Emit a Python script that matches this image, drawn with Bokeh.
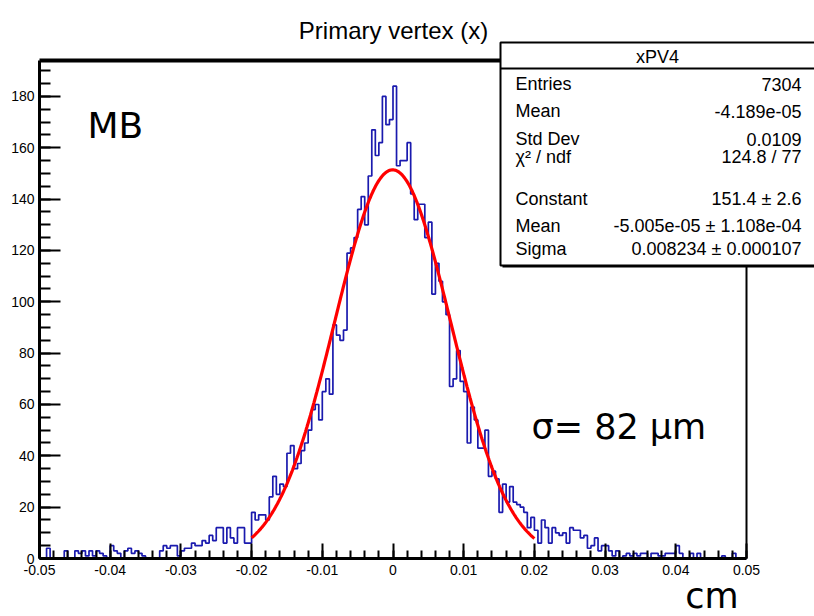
import numpy as np
from bokeh.plotting import figure
from bokeh.models import Range1d, FixedTicker, CustomJSTickFormatter, Label, LinearAxis
from bokeh.embed import file_html
from bokeh.resources import INLINE

# ---------------- data ----------------
TITLE = "Primary vertex (x)"
X_MIN, X_MAX, N_BINS = -0.05, 0.05, 200
Y_MAX = 194
X_TICKS = [-0.05, -0.04, -0.03, -0.02, -0.01, 0.0, 0.01, 0.02, 0.03, 0.04, 0.05]
Y_TICKS = [0, 20, 40, 60, 80, 100, 120, 140, 160, 180]

COUNTS = [
    0, 0, 4, 0, 0, 0, 0, 3, 0, 0,          # 0-9
    3, 2, 3, 1, 3, 1, 3, 2, 1, 0,          # 10-19
    5, 3, 2, 0, 3, 4, 2, 3, 2, 1,          # 20-29
    0, 0, 0, 0, 3, 5, 4, 5, 5, 1,          # 30-39
    3, 4, 4, 6, 5, 5, 7, 6, 9, 7,          # 40-49
    12, 12, 6, 12, 8, 6, 12, 12, 6, 6,     # 50-59
    18, 15, 17, 17, 15, 24, 32, 25, 29, 28,  # 60-69
    41, 44, 35, 37, 42, 45, 50, 58, 60, 54,  # 70-79
    65, 70, 64, 91, 87, 85, 89, 119, 121, 125,  # 80-89
    136, 141, 130, 149, 167, 157, 162, 180, 169, 171,  # 90-99
    184, 153, 155, 155, 162, 142, 132, 138, 138, 125,  # 100-109
    131, 103, 115, 108, 100, 95, 67, 70, 81, 69,  # 110-119
    65, 45, 59, 54, 43, 43, 50, 32, 34, 31,  # 120-129
    18, 29, 22, 28, 22, 21, 20, 18, 12, 16,  # 130-139
    11, 6, 15, 12, 6, 12, 10, 9, 10, 6,    # 140-149
    12, 11, 11, 8, 9, 4, 5, 8, 3, 5,       # 150-159
    5, 3, 1, 3, 0, 1, 2, 1, 2, 1,          # 160-169
    2, 2, 0, 2, 2, 1, 1, 2, 2, 2,          # 170-179
    5, 2, 0, 0, 2, 0, 2, 0, 0, 0,          # 180-189
    0, 0, 0, 1, 0, 0, 2, 0, 0, 0,          # 190-199
]

FIT_CONST, FIT_MEAN, FIT_SIGMA = 151.4, -5.005e-05, 0.008234
FIT_LO, FIT_HI = -0.02, 0.02

STATS_NAME = "xPV4"
STATS_KEYS = ["Entries", "Mean", "Std Dev", "χ² / ndf", "Constant", "Mean", "Sigma"]
STATS_VALS = ["7304", "-4.189e-05", "0.0109", "124.8 / 77", "151.4 ± 2.6",
              "-5.005e-05 ± 1.108e-04", "0.008234 ± 0.000107"]

NOTE_TOP = "MB"
NOTE_SIGMA = "σ= 82 μm"
X_TITLE = "cm"

# ---------------- layout helpers (pixel -> data) ----------------
W, H = 814, 616
FL, FR, FT, FB = 39, 746, 60, 558


def X(px):
    return X_MIN + (px - FL) * (X_MAX - X_MIN) / (FR - FL)


def Y(py):
    return (FB - py) * Y_MAX / (FB - FT)


SANS = "Liberation Sans"
BIG = "DejaVu Sans"
HIST_BLUE = "#1a1aae"

p = figure(width=W, height=H, output_backend="svg", toolbar_location=None,
           x_range=Range1d(X(0), X(W)), y_range=Range1d(Y(H), Y(0)),
           min_border_left=0, min_border_right=0, min_border_top=0, min_border_bottom=0,
           x_axis_location=None, y_axis_location=None)
p.title.visible = False
p.outline_line_color = None
p.xgrid.visible = False
p.ygrid.visible = False
p.background_fill_color = "white"
p.border_fill_color = "white"


def text(px, baseline_py, s, size, font=SANS, align="left"):
    # place text by its pixel baseline (middle anchor, ~0.347 em above baseline)
    p.add_layout(Label(x=X(px), y=Y(baseline_py - 0.347 * size), text=s, text_font=font,
                       text_font_size=f"{size}px", text_align=align,
                       text_baseline="middle", text_color="black"))


# axes (drawn at the ROOT frame position)
x_minor = [round(v, 4) for v in np.arange(X_MIN, X_MAX + 1e-9, 0.002)]
y_minor = list(range(0, Y_MAX, 5))
xfmt = CustomJSTickFormatter(code="""
    if (Math.abs(tick) < 1e-9) return "0";
    return tick.toFixed(2);
""")
xa = LinearAxis(ticker=FixedTicker(ticks=X_TICKS, minor_ticks=x_minor), formatter=xfmt,
                fixed_location=0, bounds=(X_MIN, X_MAX))
ya = LinearAxis(ticker=FixedTicker(ticks=Y_TICKS, minor_ticks=y_minor),
                fixed_location=X_MIN, bounds=(0, Y_MAX))
for ax, tin, min_in in ((xa, 15, 8), (ya, 21, 11)):
    ax.axis_line_width = 3
    ax.axis_line_color = "black"
    ax.major_tick_in = tin
    ax.major_tick_out = 0
    ax.minor_tick_in = min_in
    ax.minor_tick_out = 0
    ax.major_tick_line_width = 2
    ax.minor_tick_line_width = 2
    ax.major_tick_line_color = "black"
    ax.minor_tick_line_color = "black"
    ax.major_label_text_font = SANS
    ax.major_label_text_font_size = "14px"
    ax.major_label_text_color = "black"
xa.major_label_standoff = 6
ya.major_label_standoff = 5
p.add_layout(xa, "below")
p.add_layout(ya, "left")

# frame top and right borders
p.segment(x0=[X_MIN], y0=[Y_MAX], x1=[X_MAX], y1=[Y_MAX], line_color="black", line_width=4)
p.segment(x0=[X_MAX], y0=[0], x1=[X_MAX], y1=[Y_MAX], line_color="black", line_width=2)

# histogram
edges = np.linspace(X_MIN, X_MAX, N_BINS + 1)
ys = list(COUNTS) + [COUNTS[-1]]
p.step(x=edges, y=ys, mode="after", line_color=HIST_BLUE, line_width=1.7)

# fit
fx = np.linspace(FIT_LO, FIT_HI, 400)
fy = FIT_CONST * np.exp(-0.5 * ((fx - FIT_MEAN) / FIT_SIGMA) ** 2)
p.line(fx, fy, line_color="#ff0000", line_width=3.2)

# title
text(393, 38, TITLE, 24, align="center")

# stats box
BL, BR, BT, BB = 500, 818, 42, 265
p.quad(left=[X(BL + 2)], right=[X(BR + 2)], top=[Y(BT + 2)], bottom=[Y(BB + 2)],
       fill_color="black", line_alpha=0)
p.quad(left=[X(BL)], right=[X(BR)], top=[Y(BT)], bottom=[Y(BB)],
       fill_color="white", line_color="black", line_width=2)
p.segment(x0=[X(BL)], y0=[Y(68)], x1=[X(BR)], y1=[Y(68)], line_color="black", line_width=2)
text(657, 63, STATS_NAME, 18, align="center")
row_base = [90, 117, 145, 163, 205, 232, 255]
for k, v, yb in zip(STATS_KEYS, STATS_VALS, row_base):
    text(515, yb, k, 18, align="left")
    text(801, yb, v, 18, align="right")

# annotations
text(87, 137, NOTE_TOP, 36, font=BIG)
text(531, 439, NOTE_SIGMA, 35, font=BIG)
text(738, 608, X_TITLE, 35, font=BIG, align="right")

open("out.html", "w").write(file_html(p, INLINE))
